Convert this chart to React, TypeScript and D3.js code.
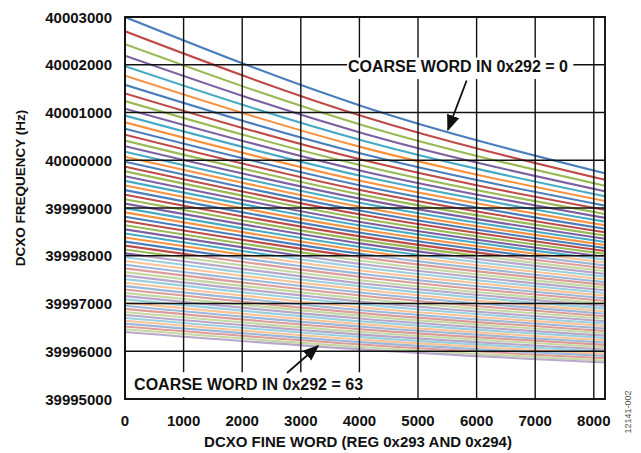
import * as d3 from 'd3';

// fine word sample positions (REG 0x293/0x294) and one row per coarse word (0x292 = 0..63)
const fineWords = [0, 4096, 8191];
const coarseWords = d3.range(64);

// DCXO frequency (Hz), per coarse word
const freqAtFineStart = [
  40003000, 40002700, 40002430, 40002190, 40001970, 40001770, 40001580, 40001400,
  40001240, 40001080, 40000935, 40000795, 40000660, 40000535, 40000412, 40000295,
  40000180, 40000075, 39999970, 39999865, 39999767, 39999667, 39999569, 39999472,
  39999375, 39999279, 39999185, 39999093, 39998998, 39998908, 39998818, 39998728,
  39998640, 39998552, 39998466, 39998381, 39998297, 39998213, 39998131, 39998050,
  39997970, 39997891, 39997812, 39997736, 39997658, 39997583, 39997510, 39997436,
  39997364, 39997293, 39997223, 39997154, 39997087, 39997019, 39996953, 39996888,
  39996823, 39996760, 39996698, 39996638, 39996578, 39996519, 39996460, 39996404,
];
const freqAtFineMid = [
  40001112, 40000905, 40000719, 40000552, 40000398, 40000254, 40000119, 39999993,
  39999874, 39999761, 39999653, 39999550, 39999451, 39999355, 39999264, 39999176,
  39999089, 39999007, 39998926, 39998847, 39998770, 39998692, 39998616, 39998541,
  39998465, 39998390, 39998316, 39998244, 39998169, 39998098, 39998027, 39997956,
  39997886, 39997816, 39997747, 39997679, 39997612, 39997545, 39997478, 39997413,
  39997349, 39997284, 39997220, 39997158, 39997094, 39997032, 39996973, 39996911,
  39996852, 39996793, 39996735, 39996677, 39996620, 39996563, 39996507, 39996452,
  39996397, 39996343, 39996290, 39996238, 39996186, 39996135, 39996083, 39996034,
];
const freqAtFineEnd = [
  39999727, 39999590, 39999465, 39999351, 39999245, 39999145, 39999050, 39998960,
  39998875, 39998793, 39998714, 39998638, 39998564, 39998492, 39998423, 39998355,
  39998289, 39998225, 39998162, 39998100, 39998039, 39997978, 39997918, 39997858,
  39997798, 39997738, 39997679, 39997621, 39997562, 39997504, 39997447, 39997390,
  39997333, 39997276, 39997220, 39997165, 39997110, 39997055, 39997000, 39996946,
  39996893, 39996839, 39996786, 39996734, 39996681, 39996629, 39996579, 39996527,
  39996477, 39996426, 39996377, 39996327, 39996278, 39996229, 39996181, 39996133,
  39996085, 39996038, 39995991, 39995945, 39995899, 39995853, 39995807, 39995763,
];

const xTicks = [0, 1000, 2000, 3000, 4000, 5000, 6000, 7000, 8000];
const yTicks = [39995000, 39996000, 39997000, 39998000, 39999000, 40000000, 40001000, 40002000, 40003000];
const seriesColors = ['#4a7ebb', '#be4b48', '#98b954', '#7d60a0', '#46aac5', '#f69240'];

const width = 641;
const height = 453;
const plot = { left: 125, right: 605, top: 17, bottom: 399 };
const font = 'Arial, "Liberation Sans", sans-serif';

export default function App() {
  const x = d3.scaleLinear().domain([0, 8191]).range([plot.left, plot.right]);
  const y = d3.scaleLinear().domain([39995000, 40003000]).range([plot.bottom, plot.top]);

  const line = d3
    .line<[number, number]>()
    .x((d) => x(d[0]))
    .y((d) => y(d[1]))
    .curve(d3.curveNatural);

  const rows = coarseWords.map((k) => {
    const vals = [freqAtFineStart[k], freqAtFineMid[k], freqAtFineEnd[k]];
    return fineWords.map((f, i) => [f, vals[i]] as [number, number]);
  });

  const paleTop = y(39998000);

  return (
    <svg
      width={width}
      height={height}
      viewBox={`0 0 ${width} ${height}`}
      style={{ position: 'absolute', left: 0, top: 0, background: '#fff' }}
      fontFamily={font}
    >
      <defs>
        <clipPath id="plot-clip">
          <rect x={plot.left} y={plot.top} width={plot.right - plot.left} height={plot.bottom - plot.top} />
        </clipPath>
        <marker id="arrow" viewBox="0 0 10 10" refX="9" refY="5" markerWidth="9" markerHeight="9" orient="auto">
          <path d="M0,1 L10,5 L0,9 Z" fill="#111" />
        </marker>
      </defs>

      <g clipPath="url(#plot-clip)">
        {rows.map((pts, k) => (
          <path
            key={k}
            d={line(pts) ?? ''}
            fill="none"
            stroke={seriesColors[k % seriesColors.length]}
            strokeWidth={2.1}
          />
        ))}
        {/* the lower, dense part of the plot comes out washed out in the original */}
        <rect x={plot.left} y={paleTop} width={plot.right - plot.left} height={plot.bottom - paleTop} fill="#fff" opacity={0.45} />
      </g>

      {/* grid */}
      {yTicks.map((t) => (
        <line key={`gy${t}`} x1={plot.left} x2={plot.right} y1={y(t)} y2={y(t)} stroke="#111" strokeWidth={1.4} />
      ))}
      {xTicks.map((t) => (
        <line key={`gx${t}`} x1={x(t)} x2={x(t)} y1={plot.top} y2={plot.bottom} stroke="#111" strokeWidth={1.4} />
      ))}
      <rect
        x={plot.left}
        y={plot.top}
        width={plot.right - plot.left}
        height={plot.bottom - plot.top}
        fill="none"
        stroke="#111"
        strokeWidth={1.9}
      />

      {/* annotations */}
      <rect x={x(3790)} y={y(40002150)} width={x(7650) - x(3790)} height={y(40001700) - y(40002150)} fill="#fff" />
      <text x={x(7560)} y={y(40001970)} textAnchor="end" dominantBaseline="central" fontSize={16} fontWeight="bold" fill="#111">
        COARSE WORD IN 0x292 = 0
      </text>
      <line x1={x(5830)} y1={y(40001670)} x2={x(5512)} y2={y(40000640)} stroke="#111" strokeWidth={1.8} markerEnd="url(#arrow)" />

      <rect x={x(30)} y={y(39995560)} width={x(4650) - x(30)} height={y(39995040) - y(39995560)} fill="#fff" />
      <text x={x(155)} y={y(39995310)} dominantBaseline="central" fontSize={16} fontWeight="bold" fill="#111">
        COARSE WORD IN 0x292 = 63
      </text>
      <line x1={x(2764)} y1={y(39995545)} x2={x(3293)} y2={y(39996110)} stroke="#111" strokeWidth={1.8} markerEnd="url(#arrow)" />

      {/* axes labels */}
      {yTicks.map((t) => (
        <text key={`ly${t}`} x={112} y={y(t)} textAnchor="end" dominantBaseline="central" fontSize={15} fontWeight="bold" fill="#111">
          {t}
        </text>
      ))}
      {xTicks.map((t) => (
        <text key={`lx${t}`} x={x(t)} y={420} textAnchor="middle" dominantBaseline="central" fontSize={15} fontWeight="bold" fill="#111">
          {t}
        </text>
      ))}
      <text
        transform={`translate(20,${(plot.top + plot.bottom) / 2 - 20}) rotate(-90)`}
        textAnchor="middle"
        dominantBaseline="central"
        fontSize={13.5}
        fontWeight="bold"
        fill="#111"
      >
        DCXO FREQUENCY (Hz)
      </text>
      <text x={358} y={441} textAnchor="middle" dominantBaseline="central" fontSize={15} fontWeight="bold" fill="#111">
        DCXO FINE WORD (REG 0x293 AND 0x294)
      </text>
      <text transform="translate(628,412) rotate(-90)" textAnchor="middle" dominantBaseline="central" fontSize={9} fill="#555">
        12141-002
      </text>
    </svg>
  );
}
